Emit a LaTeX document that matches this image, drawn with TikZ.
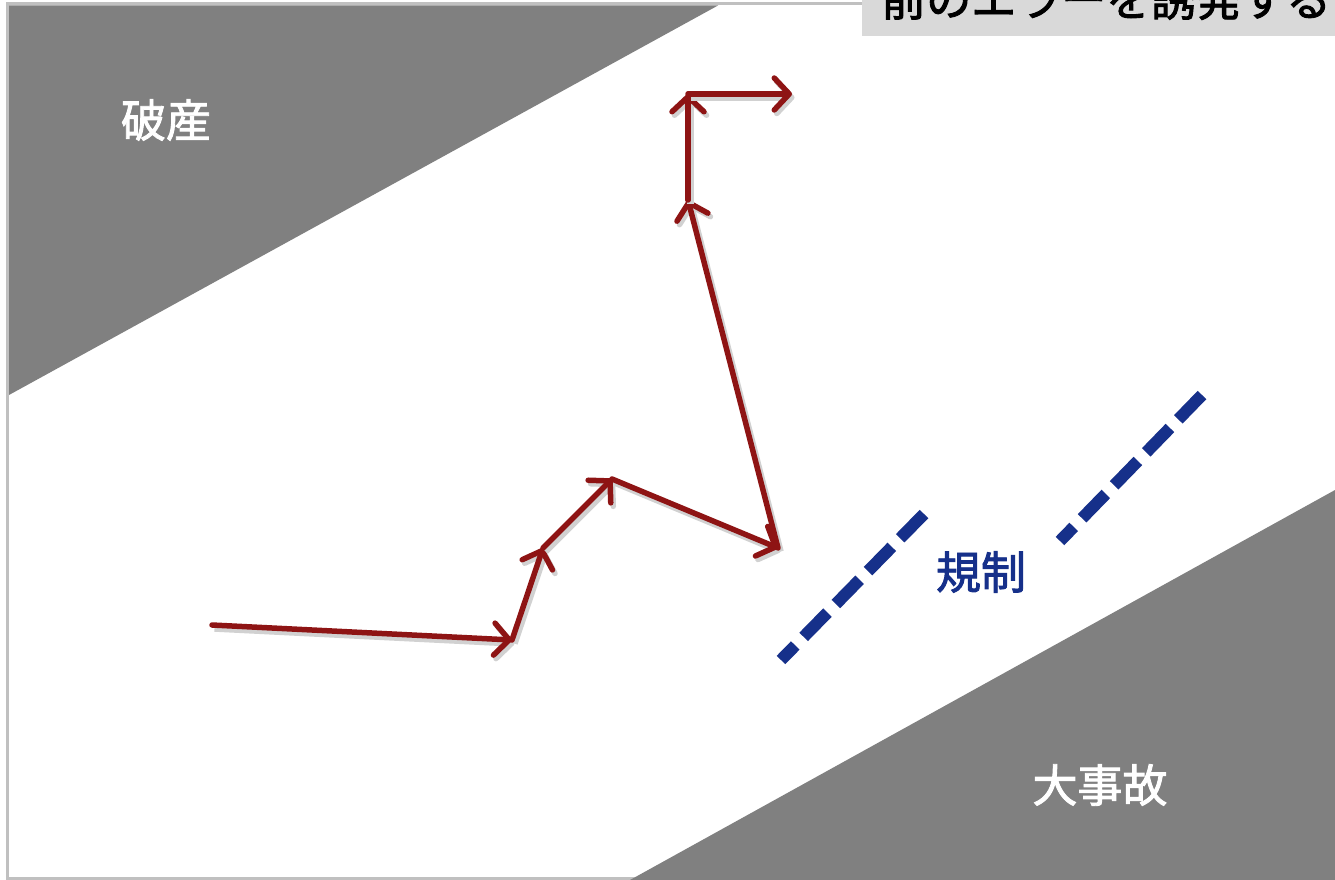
\documentclass[tikz,border=0pt]{standalone}
\usepackage{fontspec}
\newfontfamily\jp[FakeBold=2]{Noto Sans CJK JP}
\usetikzlibrary{arrows.meta}
\definecolor{band}{HTML}{808080}
\definecolor{framegray}{HTML}{C0C0C0}
\definecolor{boxgray}{HTML}{D9D9D9}
\definecolor{arrowred}{HTML}{8E1414}
\definecolor{regblue}{HTML}{16308A}
\tikzset{
  band/.style={fill=band, draw=none},
  walk/.style={draw=arrowred, line width=5.5pt, line cap=round,
    -{Straight Barb[length=15pt,width=32pt,line width=5.5pt,round]},
    preaction={draw=black!18, line width=6.5pt, transform canvas={shift={(2.5pt,-3.5pt)}}}},
  regline/.style={draw=regblue, line width=12pt, dash pattern=on 34pt off 12pt},
  bandlabel/.style={text=white, font=\jp\fontsize{45}{50}\selectfont, inner sep=0pt},
  reglabel/.style={text=regblue, font=\jp\fontsize{45}{50}\selectfont, inner sep=0pt},
  toplabel/.style={text=black, font=\jp\fontsize{45}{50}\selectfont, inner sep=0pt, anchor=base west}
}
\begin{document}
\begin{tikzpicture}[x=1pt,y=-1pt]
\clip (0,0) rectangle (1335,880);
\fill[white] (0,0) rectangle (1335,880);
% frame
\draw[framegray, line width=3pt] (7.5,4) rectangle (1345,878.5);
% bands
\path[band] (9,5.5) -- (718,5.5) -- (9,395) -- cycle;
\path[band] (630,880) -- (1335,490) -- (1335,880) -- cycle;
% top box
\fill[boxgray] (862,0) rectangle (1335,36);
\node[toplabel] (top) at (881,16) {前のエラーを誘発する};
% walk points
\coordinate (p1) at (212,625);
\coordinate (p2) at (512,640);
\coordinate (p3) at (543,548);
\coordinate (p4) at (612,479);
\coordinate (p5) at (778,548);
\coordinate (p6) at (688,200);
\coordinate (p7) at (688,94);
\coordinate (p8) at (792,94);
\draw[walk] (p1) -- (p2);
\draw[walk] (p2) -- (p3);
\draw[walk] (p3) -- (p4);
\draw[walk] (p4) -- (p5);
\draw[walk] (p5) -- (p6);
\draw[walk] (p6) -- (p7);
\draw[walk] (p7) -- (p8);
% regulation lines
\coordinate (r1a) at (924,514);
\coordinate (r1b) at (781,660);
\coordinate (r2a) at (1202,395);
\coordinate (r2b) at (1060,541);
\draw[regline] (r1a) -- (r1b);
\draw[regline] (r2a) -- (r2b);
% labels
\node[bandlabel] (bankrupt) at (166,120) {破産};
\node[bandlabel] (accident) at (1100,785) {大事故};
\node[reglabel] (reg) at (981,572) {規制};
\end{tikzpicture}
\end{document}
